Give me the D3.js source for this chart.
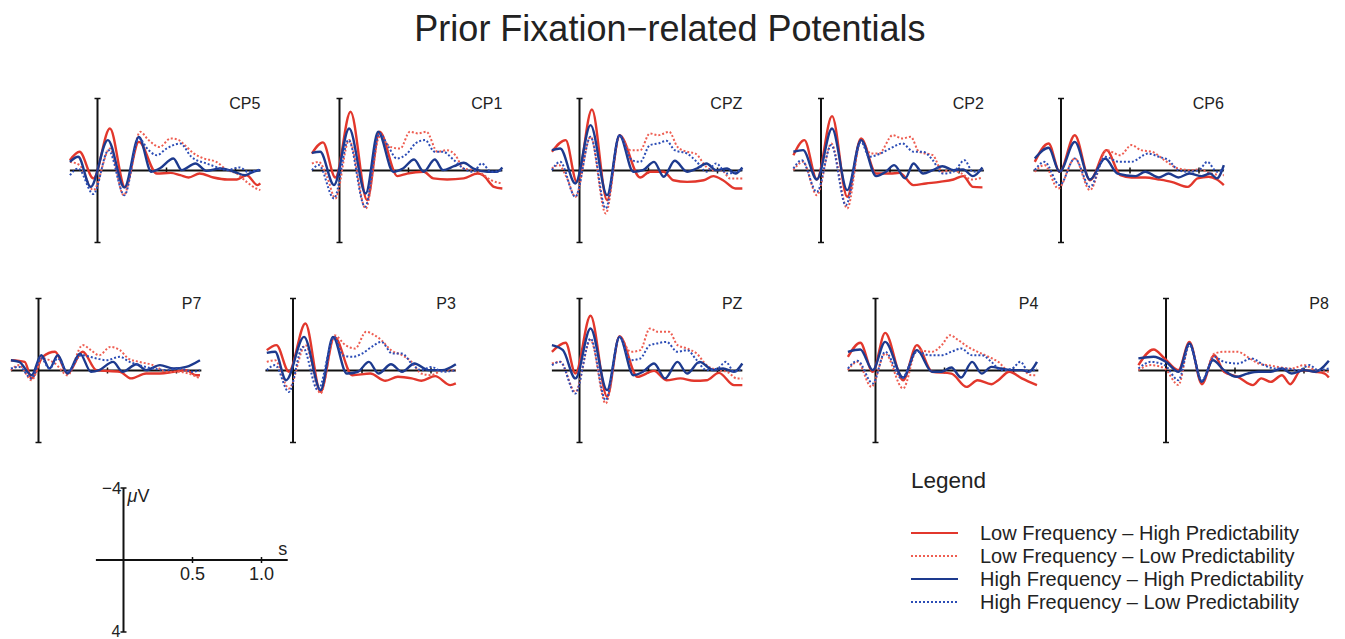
<!DOCTYPE html>
<html>
<head>
<meta charset="utf-8">
<script src="https://cdn.jsdelivr.net/npm/d3@7"></script>
<style>
  body { margin: 0; background: #fff; }
  text { font-family: "Liberation Sans", Arial, Helvetica, sans-serif; fill: #222; }
</style>
</head>
<body>
<svg id="chart"></svg>
<script>
// size of the picture
const width = 1345, height = 639;

// electrodes, top row then bottom row
const channels = ["CP5", "CP1", "CPZ", "CP2", "CP6", "P7", "P3", "PZ", "P4", "P8"];

// legend labels, same order as the series arrays below
const conditions = [
  "Low Frequency \u2013 High Predictability",
  "Low Frequency \u2013 Low Predictability",
  "High Frequency \u2013 High Predictability",
  "High Frequency \u2013 Low Predictability"
];

// [time (s), amplitude (µV)], one list per channel
const lowFreqHighPred = [
  [[-0.2,-0.57],[-0.13,-1.04],[-0.03,0.44],[0.09,-2.33],[0.2,0.94],[0.3,-1.59],[0.43,0.17],[0.53,0.13],[0.6,0.26],[0.66,0.39],[0.74,0.17],[0.84,0.39],[0.94,0.5],[1.01,0.5],[1.08,0.26],[1.16,0.81],[1.18,0.72]],
  [[-0.2,-0.94],[-0.12,-1.56],[-0.03,0.39],[0.08,-3.26],[0.2,1.65],[0.29,-2.15],[0.42,0.31],[0.49,0.17],[0.61,0.07],[0.68,0.44],[0.78,0.5],[0.9,0.44],[1.0,0.17],[1.04,0.26],[1.12,0.91],[1.18,1.0]],
  [[-0.2,-1.04],[-0.1,-1.69],[-0.02,0.63],[0.09,-3.39],[0.2,1.65],[0.29,-1.96],[0.44,0.39],[0.51,0.07],[0.61,0.07],[0.68,0.54],[0.78,0.63],[0.9,0.54],[0.97,0.31],[1.04,0.54],[1.13,1.0],[1.18,1.0]],
  [[-0.2,-0.85],[-0.12,-1.69],[-0.03,0.5],[0.08,-3.02],[0.19,1.46],[0.29,-1.78],[0.4,0.17],[0.5,0.17],[0.57,0.13],[0.67,0.81],[0.76,0.72],[0.86,0.63],[0.96,0.5],[1.03,0.31],[1.1,0.91],[1.17,0.94]],
  [[-0.19,-0.48],[-0.09,-1.5],[-0.01,0.07],[0.1,-1.96],[0.21,0.54],[0.33,-1.13],[0.43,0.26],[0.51,0.39],[0.61,0.39],[0.71,0.5],[0.8,0.63],[0.92,0.91],[0.99,0.44],[1.07,0.35],[1.13,0.5],[1.18,0.81]],
  [[-0.2,-0.57],[-0.1,-0.48],[-0.05,0.44],[0.03,-0.76],[0.12,-1.04],[0.21,0.17],[0.32,-1.04],[0.42,-0.02],[0.59,0.07],[0.67,0.44],[0.78,0.17],[0.88,0.17],[0.98,0.07],[1.07,-0.02],[1.14,0.26],[1.17,0.26]],
  [[-0.19,-1.13],[-0.12,-1.41],[-0.03,0.07],[0.09,-2.61],[0.2,1.19],[0.3,-1.87],[0.43,0.26],[0.56,0.17],[0.67,0.57],[0.76,0.35],[0.86,0.44],[0.93,0.57],[1.03,0.31],[1.14,0.81],[1.18,0.72]],
  [[-0.2,-1.04],[-0.1,-1.54],[-0.03,0.17],[0.08,-3.04],[0.2,1.46],[0.29,-1.91],[0.42,0.35],[0.54,0.02],[0.63,0.54],[0.73,0.44],[0.83,0.57],[0.92,0.54],[1.01,0.13],[1.12,0.81],[1.18,0.81]],
  [[-0.2,-0.76],[-0.11,-1.54],[-0.02,0.07],[0.07,-2.09],[0.2,0.54],[0.3,-1.41],[0.41,0.07],[0.55,0.17],[0.66,0.91],[0.74,0.54],[0.84,0.76],[0.89,0.54],[0.97,0.07],[1.06,0.44],[1.17,0.81]],
  [[-0.2,-0.3],[-0.09,-1.17],[-0.01,-0.67],[0.09,-0.02],[0.17,-1.59],[0.26,0.76],[0.35,-0.85],[0.42,0.07],[0.52,0.35],[0.63,0.81],[0.69,0.44],[0.76,0.63],[0.84,0.26],[0.9,0.76],[0.98,-0.02],[1.08,0.07],[1.15,0.17],[1.18,0.39]]
];

const lowFreqLowPred = [
  [[-0.2,-0.48],[-0.13,-0.3],[-0.03,1.09],[0.09,-1.22],[0.19,1.37],[0.31,-2.15],[0.37,-1.69],[0.45,-1.31],[0.53,-1.78],[0.59,-1.69],[0.62,-1.5],[0.7,-0.94],[0.77,-0.67],[0.86,-0.48],[0.94,-0.02],[1.01,0.17],[1.08,0.63],[1.15,1.0],[1.18,1.09]],
  [[-0.2,-0.39],[-0.15,-0.48],[-0.09,0.35],[-0.03,1.55],[0.07,-1.69],[0.19,2.11],[0.29,-1.87],[0.37,-1.31],[0.44,-1.22],[0.51,-2.15],[0.57,-2.06],[0.63,-2.15],[0.71,-1.04],[0.78,-1.13],[0.84,-0.85],[0.9,-0.11],[0.97,-0.02],[1.03,0.17],[1.1,0.54],[1.18,0.72]],
  [[-0.2,-0.11],[-0.15,-0.3],[-0.09,0.44],[-0.03,1.46],[0.08,-1.87],[0.19,2.39],[0.29,-1.87],[0.37,-1.13],[0.44,-1.13],[0.51,-2.06],[0.57,-1.96],[0.65,-2.15],[0.71,-1.31],[0.78,-1.04],[0.84,-0.94],[0.92,-0.2],[0.97,-0.02],[1.03,-0.02],[1.09,0.44],[1.18,0.44]],
  [[-0.2,-0.02],[-0.13,-0.48],[-0.03,1.37],[0.075,-1.5],[0.19,2.11],[0.29,-1.69],[0.36,-0.94],[0.42,-0.94],[0.52,-1.96],[0.59,-1.78],[0.65,-1.87],[0.71,-1.04],[0.81,-0.85],[0.88,0.07],[0.93,-0.02],[1.02,0.17],[1.09,0.5],[1.17,0.39]],
  [[-0.19,0.07],[-0.12,-0.3],[-0.02,1.0],[0.1,-0.67],[0.21,1.09],[0.33,-1.13],[0.43,-0.85],[0.51,-1.41],[0.58,-1.13],[0.66,-1.04],[0.75,-0.57],[0.85,-0.11],[0.95,-0.02],[1.0,-0.06],[1.09,0.17],[1.18,0.26]],
  [[-0.2,-0.02],[-0.14,-0.3],[-0.05,0.54],[0.03,-0.67],[0.12,-0.39],[0.21,0.26],[0.32,-1.41],[0.38,-1.13],[0.44,-0.85],[0.52,-1.31],[0.59,-1.13],[0.65,-0.67],[0.73,-0.48],[0.83,-0.3],[0.93,0.07],[1.02,0.07],[1.12,0.26],[1.17,0.44]],
  [[-0.19,-0.48],[-0.13,-0.57],[-0.03,1.0],[0.09,-1.41],[0.2,1.28],[0.3,-1.96],[0.38,-1.41],[0.45,-1.22],[0.53,-2.15],[0.59,-1.96],[0.64,-1.69],[0.71,-1.13],[0.79,-0.85],[0.86,-0.48],[0.93,0.17],[1.0,0.26],[1.09,-0.02],[1.18,-0.02]],
  [[-0.2,-0.39],[-0.14,-0.48],[-0.03,1.19],[0.08,-1.69],[0.19,1.83],[0.29,-1.87],[0.37,-1.04],[0.44,-1.13],[0.51,-2.33],[0.57,-2.15],[0.65,-2.15],[0.71,-1.41],[0.78,-1.22],[0.85,-0.94],[0.92,-0.3],[1.0,-0.02],[1.07,0.07],[1.14,0.44],[1.18,0.44]],
  [[-0.2,-0.02],[-0.13,-0.48],[-0.03,0.91],[0.07,-0.94],[0.2,1.0],[0.3,-1.13],[0.41,-1.04],[0.48,-1.41],[0.54,-1.96],[0.6,-1.69],[0.67,-1.31],[0.74,-1.04],[0.82,-0.76],[0.89,-0.48],[0.96,-0.02],[1.06,-0.02],[1.13,0.26],[1.17,0.26]],
  [[-0.2,-0.02],[-0.11,-0.3],[-0.01,-0.11],[0.09,0.81],[0.17,-1.5],[0.26,0.63],[0.35,-0.94],[0.42,-1.04],[0.52,-1.04],[0.59,-0.76],[0.67,-0.39],[0.74,-0.3],[0.81,-0.2],[0.91,-0.11],[1.0,-0.3],[1.08,-0.02],[1.18,0.07]]
];

const highFreqHighPred = [
  [[-0.2,-0.48],[-0.14,-0.76],[-0.05,0.91],[0.075,-1.69],[0.195,0.94],[0.3,-1.87],[0.39,0.07],[0.45,-0.11],[0.55,-0.67],[0.61,-0.02],[0.71,-0.39],[0.79,0.02],[0.89,-0.11],[0.99,0.07],[1.07,0.26],[1.13,0.07],[1.18,-0.02]],
  [[-0.2,-0.98],[-0.14,-1.04],[-0.04,0.81],[0.07,-2.33],[0.19,1.28],[0.28,-2.15],[0.39,0.07],[0.46,-0.11],[0.54,-0.61],[0.61,0.07],[0.69,-0.61],[0.75,-0.02],[0.83,-0.24],[0.9,-0.43],[0.97,-0.11],[1.07,0.07],[1.14,0.07],[1.18,-0.17]],
  [[-0.2,-1.13],[-0.14,-1.22],[-0.03,0.72],[0.08,-2.52],[0.2,1.37],[0.29,-1.96],[0.39,0.07],[0.46,-0.02],[0.54,-0.48],[0.61,0.35],[0.69,-0.54],[0.78,0.07],[0.85,-0.11],[0.92,-0.39],[0.99,-0.02],[1.07,-0.11],[1.13,0.17],[1.18,-0.17]],
  [[-0.2,-1.04],[-0.13,-1.13],[-0.03,0.5],[0.08,-2.33],[0.19,1.09],[0.29,-1.69],[0.4,0.31],[0.47,0.07],[0.53,-0.3],[0.61,0.44],[0.67,-0.39],[0.74,0.17],[0.81,-0.02],[0.88,-0.24],[0.96,-0.02],[1.03,-0.06],[1.1,0.31],[1.17,-0.17]],
  [[-0.19,-0.67],[-0.09,-1.26],[-0.01,0.07],[0.1,-1.59],[0.21,0.5],[0.32,-0.67],[0.41,0.17],[0.54,0.31],[0.61,0.07],[0.71,0.39],[0.78,0.17],[0.85,0.39],[0.93,0.17],[1.02,0.31],[1.08,0.17],[1.13,0.44],[1.18,-0.3]],
  [[-0.2,-0.57],[-0.14,-0.48],[-0.05,0.26],[0.02,-0.85],[0.08,-0.11],[0.14,-0.85],[0.21,0.17],[0.3,-0.94],[0.38,0.07],[0.44,-0.02],[0.54,-0.48],[0.61,0.07],[0.71,-0.35],[0.78,-0.02],[0.88,-0.3],[0.98,-0.11],[1.07,-0.2],[1.17,-0.57]],
  [[-0.19,-0.98],[-0.13,-1.04],[-0.05,0.54],[0.08,-1.87],[0.2,1.09],[0.29,-1.87],[0.39,0.17],[0.47,0.07],[0.55,-0.48],[0.62,0.17],[0.71,-0.35],[0.79,0.07],[0.88,-0.39],[0.98,-0.02],[1.08,-0.02],[1.18,-0.35]],
  [[-0.2,-1.41],[-0.12,-1.13],[-0.03,0.44],[0.08,-2.33],[0.2,1.09],[0.29,-1.87],[0.39,0.26],[0.46,0.07],[0.54,-0.39],[0.62,0.44],[0.71,-0.48],[0.78,0.17],[0.87,-0.48],[0.97,-0.02],[1.04,-0.11],[1.12,0.07],[1.18,-0.39]],
  [[-0.2,-1.04],[-0.11,-1.17],[-0.02,-0.02],[0.07,-1.59],[0.2,0.39],[0.3,-1.13],[0.41,0.07],[0.48,0.07],[0.55,-0.17],[0.62,0.39],[0.7,-0.48],[0.77,0.17],[0.84,-0.2],[0.91,-0.11],[0.99,-0.02],[1.06,-0.02],[1.11,0.07],[1.17,-0.48]],
  [[-0.2,-0.67],[-0.09,-0.76],[0.0,-0.48],[0.09,0.07],[0.17,-1.5],[0.26,0.63],[0.34,-0.57],[0.42,-0.02],[0.51,0.35],[0.59,0.17],[0.67,0.07],[0.76,0.07],[0.84,-0.11],[0.91,0.17],[1.0,-0.02],[1.08,0.07],[1.18,-0.54]]
];

const highFreqLowPred = [
  [[-0.2,0.26],[-0.14,-0.11],[-0.03,1.31],[0.08,-1.13],[0.195,1.37],[0.3,-1.78],[0.37,-1.13],[0.43,-0.85],[0.5,-1.22],[0.6,-1.5],[0.68,-0.76],[0.79,-0.39],[0.86,-0.2],[0.94,-0.02],[1.03,-0.17],[1.09,0.07],[1.18,-0.06]],
  [[-0.2,-0.02],[-0.15,-0.3],[-0.04,1.55],[0.065,-1.69],[0.185,2.02],[0.29,-2.06],[0.355,-1.31],[0.415,-0.67],[0.49,-0.94],[0.55,-1.5],[0.62,-1.69],[0.69,-1.04],[0.75,-1.04],[0.83,-0.57],[0.9,-0.11],[0.97,0.07],[1.03,-0.39],[1.1,0.07],[1.18,-0.02]],
  [[-0.2,-0.02],[-0.14,-0.48],[-0.03,1.46],[0.08,-1.87],[0.19,2.11],[0.29,-1.96],[0.38,-0.57],[0.44,-0.48],[0.51,-1.41],[0.57,-1.5],[0.63,-1.65],[0.69,-1.13],[0.78,-0.94],[0.85,-0.48],[0.92,0.07],[0.99,-0.39],[1.07,0.17],[1.18,-0.06]],
  [[-0.2,-0.11],[-0.14,-0.57],[-0.03,1.19],[0.075,-1.41],[0.18,1.93],[0.29,-1.59],[0.35,-0.76],[0.43,-0.94],[0.5,-1.22],[0.59,-1.5],[0.67,-1.04],[0.74,-1.04],[0.81,-0.57],[0.88,0.17],[0.96,0.07],[1.04,-0.57],[1.1,0.07],[1.17,-0.02]],
  [[-0.19,-0.02],[-0.12,-0.48],[-0.01,0.81],[0.1,-0.67],[0.21,0.91],[0.32,-0.76],[0.42,-0.48],[0.51,-0.48],[0.63,-0.94],[0.71,-0.76],[0.78,-0.57],[0.85,-0.02],[0.92,0.07],[1.0,-0.02],[1.06,-0.48],[1.13,0.07],[1.18,-0.11]],
  [[-0.2,-0.11],[-0.14,-0.2],[-0.05,0.44],[0.02,-0.67],[0.08,-0.11],[0.14,-0.67],[0.21,0.07],[0.31,-0.85],[0.42,-0.67],[0.49,-0.57],[0.59,-0.76],[0.66,-0.48],[0.73,-0.3],[0.83,-0.11],[0.93,-0.02],[1.02,-0.11],[1.12,0.07],[1.17,-0.02]],
  [[-0.19,-0.02],[-0.13,-0.3],[-0.03,1.19],[0.07,-1.31],[0.18,1.09],[0.3,-1.87],[0.36,-0.85],[0.43,-0.76],[0.5,-0.94],[0.57,-1.31],[0.64,-1.59],[0.72,-0.94],[0.79,-0.94],[0.86,-0.39],[0.93,-0.02],[1.0,-0.2],[1.09,0.07],[1.18,-0.02]],
  [[-0.2,-0.3],[-0.14,-0.48],[-0.03,1.28],[0.08,-1.78],[0.19,1.65],[0.29,-1.87],[0.37,-0.57],[0.44,-0.67],[0.51,-1.41],[0.56,-1.5],[0.63,-1.59],[0.71,-1.04],[0.78,-1.13],[0.85,-0.57],[0.92,-0.02],[1.0,-0.11],[1.06,-0.48],[1.12,0.07],[1.18,-0.11]],
  [[-0.2,-0.11],[-0.13,-0.54],[-0.02,0.72],[0.07,-1.04],[0.19,0.44],[0.3,-1.04],[0.39,-0.85],[0.48,-0.85],[0.55,-1.04],[0.62,-1.22],[0.7,-0.85],[0.77,-0.85],[0.84,-0.48],[0.91,-0.02],[0.99,-0.11],[1.05,-0.48],[1.11,0.07],[1.17,-0.11]],
  [[-0.2,-0.11],[-0.11,-0.48],[-0.01,-0.3],[0.09,0.54],[0.17,-1.41],[0.26,0.54],[0.35,-0.76],[0.42,-0.48],[0.52,-0.39],[0.62,-0.67],[0.71,-0.3],[0.79,-0.11],[0.86,-0.11],[0.96,-0.02],[1.04,-0.3],[1.1,-0.02],[1.18,-0.11]]
];

// scale-bar ticks
const timeTicks = [0.5, 1.0];
const voltRange = [-4, 4];
const timeRange = [-0.2, 1.18];

// layout: where each panel's (t=0, 0 µV) sits on the page
const panelOrigins = [
  [97.5, 170.5], [339.5, 170.5], [579.5, 170.5], [821, 170.5], [1061, 170.5],
  [38.5, 370.5], [293, 370.5], [579.5, 370.5], [875.5, 370.5], [1166, 370.5]
];
const pxPerSec = 138, halfHeight = 72;

const styles = [
  { color: "#e2372c", dash: null,  width: 2.4 },
  { color: "#ee5e52", dash: "2,2", width: 2 },
  { color: "#1d3a8e", dash: null,  width: 2.4 },
  { color: "#2c4db6", dash: "2,2", width: 2 }
];
const seriesList = [lowFreqHighPred, lowFreqLowPred, highFreqHighPred, highFreqLowPred];

const svg = d3.select("#chart")
    .attr("width", width)
    .attr("height", height);

svg.append("rect").attr("width", width).attr("height", height).attr("fill", "#fff");

// title
svg.append("text")
    .attr("x", 670)
    .attr("y", 41)
    .attr("text-anchor", "middle")
    .attr("font-size", "36px")
    .text("Prior Fixation\u2212related Potentials");

function scalesAt(origin) {
    const x = d3.scaleLinear()
        .domain([0, 1])
        .range([origin[0], origin[0] + pxPerSec]);
    const y = d3.scaleLinear()
        .domain(voltRange)
        .range([origin[1] - halfHeight, origin[1] + halfHeight]);
    return { x, y };
}

// axes cross: zero line, time ticks, vertical amplitude bar with end caps
function drawAxes(g, x, y, xEnd) {
    g.append("line")
        .attr("x1", x(timeRange[0])).attr("x2", x(xEnd))
        .attr("y1", y(0)).attr("y2", y(0))
        .attr("stroke", "#111").attr("stroke-width", 2);
    timeTicks.forEach(t => {
        g.append("line")
            .attr("x1", x(t)).attr("x2", x(t))
            .attr("y1", y(0) - 3).attr("y2", y(0) + 3)
            .attr("stroke", "#111").attr("stroke-width", 1.5);
    });
    g.append("line")
        .attr("x1", x(0)).attr("x2", x(0))
        .attr("y1", y(voltRange[0])).attr("y2", y(voltRange[1]))
        .attr("stroke", "#111").attr("stroke-width", 2);
    voltRange.forEach(v => {
        g.append("line")
            .attr("x1", x(0) - 3).attr("x2", x(0) + 3)
            .attr("y1", y(v)).attr("y2", y(v))
            .attr("stroke", "#111").attr("stroke-width", 1.5);
    });
}

channels.forEach((name, i) => {
    const { x, y } = scalesAt(panelOrigins[i]);
    const g = svg.append("g").attr("class", "panel");

    drawAxes(g, x, y, timeRange[1]);

    const line = d3.line()
        .x(d => x(d[0]))
        .y(d => y(d[1]))
        .curve(d3.curveMonotoneX);

    seriesList.forEach((series, k) => {
        g.append("path")
            .datum(series[i])
            .attr("d", line)
            .attr("fill", "none")
            .attr("stroke", styles[k].color)
            .attr("stroke-width", styles[k].width)
            .attr("stroke-dasharray", styles[k].dash)
            .attr("stroke-linejoin", "round");
    });

    g.append("text")
        .attr("x", x(timeRange[1]))
        .attr("y", y(0) - 62)
        .attr("text-anchor", "end")
        .attr("font-size", "16px")
        .text(name);
});

// scale bar in the lower left
const bar = scalesAt([123.5, 560]);
const barG = svg.append("g");
drawAxes(barG, bar.x, bar.y, 1.19);
barG.selectAll(".tl")
    .data(timeTicks)
    .enter().append("text")
    .attr("x", d => bar.x(d))
    .attr("y", bar.y(0) + 20)
    .attr("text-anchor", "middle")
    .attr("font-size", "18px")
    .text(d => d.toFixed(1));
barG.append("text")
    .attr("x", bar.x(1.19) - 5).attr("y", bar.y(0) - 5)
    .attr("text-anchor", "middle").attr("font-size", "18px").text("s");
barG.append("text")
    .attr("x", bar.x(0) - 2).attr("y", bar.y(voltRange[0]) + 6)
    .attr("text-anchor", "end").attr("font-size", "17px").text("\u22124");
barG.append("text")
    .attr("x", bar.x(0) - 3).attr("y", bar.y(voltRange[1]) + 5)
    .attr("text-anchor", "end").attr("font-size", "16px").text("4");
const uv = barG.append("text")
    .attr("x", bar.x(0) + 4).attr("y", bar.y(voltRange[0]) + 14)
    .attr("font-size", "18px");
uv.append("tspan").attr("font-style", "italic").text("\u03bc");
uv.append("tspan").text("V");

// legend
const legend = svg.append("g");
legend.append("text")
    .attr("x", 911).attr("y", 488)
    .attr("font-size", "22.5px")
    .text("Legend");
conditions.forEach((label, k) => {
    const ly = 533 + k * 23;
    legend.append("line")
        .attr("x1", 911).attr("x2", 958)
        .attr("y1", ly).attr("y2", ly)
        .attr("stroke", styles[k].color)
        .attr("stroke-width", styles[k].dash ? 1.8 : 2.2)
        .attr("stroke-dasharray", styles[k].dash);
    legend.append("text")
        .attr("x", 980).attr("y", ly + 7)
        .attr("font-size", "20px")
        .text(label);
});
</script>
</body>
</html>
